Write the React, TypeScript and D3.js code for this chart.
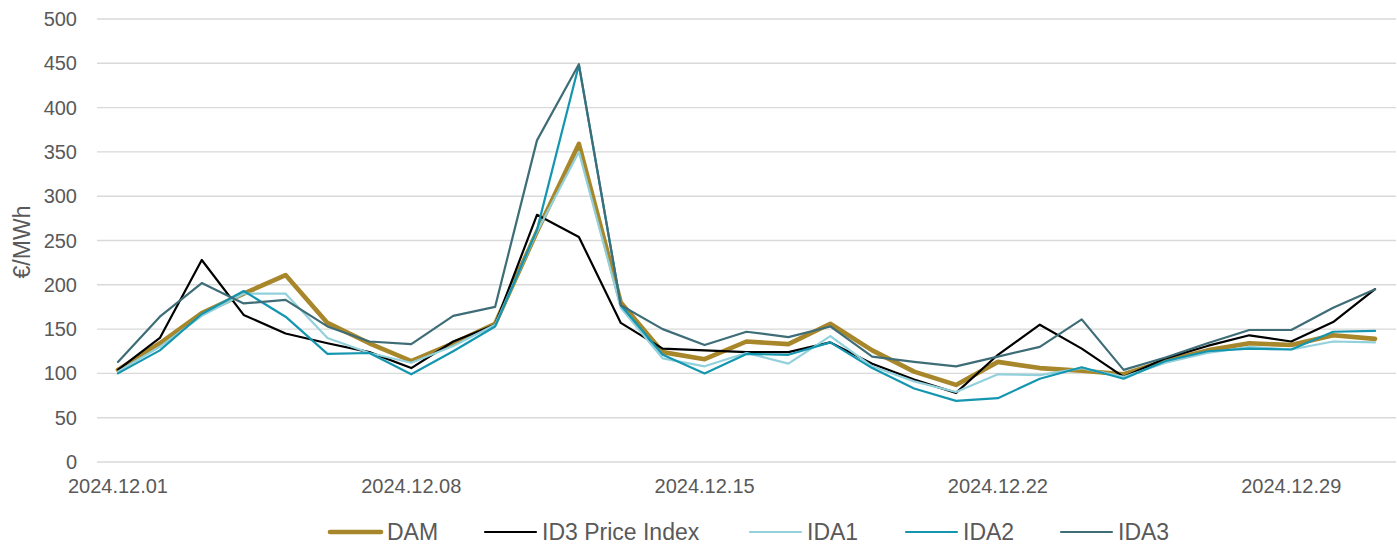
import React, { useEffect, useRef } from 'react';
import * as d3 from 'd3';

// daily prices, 2024.12.01 .. 2024.12.31 (€/MWh)
const days = d3.range(1, 32).map((d) => new Date(2024, 11, d));
const dam = [104, 134, 168, 190, 211, 157, 134, 114, 134, 156, 260, 359, 180, 124, 116, 136, 133, 156, 126, 102, 87, 113, 106, 103, 99, 114, 126, 134, 132, 143, 139];
const id3 = [104, 140, 228, 166, 145, 134, 124, 106, 136, 155, 279, 254, 157, 128, 126, 124, 124, 135, 111, 93, 78, 121, 155, 128, 96, 117, 131, 143, 136, 158, 195];
const ida1 = [102, 130, 165, 190, 190, 140, 123, 112, 131, 155, 260, 350, 174, 117, 108, 123, 111, 142, 108, 91, 79, 99, 98, 106, 96, 112, 123, 130, 127, 136, 135];
const ida2 = [100, 126, 167, 193, 164, 122, 123, 99, 125, 153, 262, 448, 177, 121, 100, 122, 121, 135, 106, 83, 69, 72, 94, 107, 94, 114, 125, 128, 127, 147, 148];
const ida3 = [113, 164, 202, 179, 183, 153, 136, 133, 165, 175, 363, 449, 177, 150, 132, 147, 141, 153, 119, 113, 108, 119, 130, 161, 104, 118, 134, 149, 149, 174, 195];
const yTicks = [0, 50, 100, 150, 200, 250, 300, 350, 400, 450, 500];
const labelEvery = 7;

const series = [
  { name: 'DAM', values: dam, color: '#a8862a', width: 4.6 },
  { name: 'ID3 Price Index', values: id3, color: '#000000', width: 2.2 },
  { name: 'IDA1', values: ida1, color: '#92d0dc', width: 2.2 },
  { name: 'IDA2', values: ida2, color: '#1496b0', width: 2.2 },
  { name: 'IDA3', values: ida3, color: '#3e6d77', width: 2.2 },
];
const legendX = [328, 483, 748, 904, 1059];

export default function App() {
  const ref = useRef(null);

  useEffect(() => {
    document.body.style.margin = '0';
    const width = 1397, height = 544;
    const left = 97, right = 1396, top = 19, bottom = 462;
    const font = '"Liberation Sans", Arial, sans-serif';
    const grey = '#595959';

    const svg = d3.select(ref.current);
    svg.selectAll('*').remove();
    svg.attr('width', width).attr('height', height);

    const fmt = d3.timeFormat('%Y.%m.%d');
    const x = d3.scalePoint().domain(days.map((d) => fmt(d))).range([left, right]).padding(0.5);
    const y = d3.scaleLinear().domain([0, 500]).range([bottom, top]);

    // grid lines
    svg.append('g')
      .selectAll('line')
      .data(yTicks)
      .join('line')
      .attr('x1', left)
      .attr('x2', right)
      .attr('y1', (d) => y(d))
      .attr('y2', (d) => y(d))
      .attr('stroke', '#d9d9d9')
      .attr('stroke-width', 1.4);

    // y axis labels
    svg.append('g')
      .selectAll('text')
      .data(yTicks)
      .join('text')
      .attr('x', 77)
      .attr('y', (d) => y(d))
      .attr('dy', '0.35em')
      .attr('text-anchor', 'end')
      .attr('font-family', font)
      .attr('font-size', 20)
      .attr('fill', grey)
      .text((d) => d);

    svg.append('text')
      .attr('transform', 'translate(30,242) rotate(-90)')
      .attr('text-anchor', 'middle')
      .attr('font-family', font)
      .attr('font-size', 23)
      .attr('fill', grey)
      .text('€/MWh');

    // x axis labels
    svg.append('g')
      .selectAll('text')
      .data(days.filter((d, i) => i % labelEvery === 0))
      .join('text')
      .attr('x', (d) => x(fmt(d)))
      .attr('y', 493)
      .attr('text-anchor', 'middle')
      .attr('font-family', font)
      .attr('font-size', 20)
      .attr('fill', grey)
      .text((d) => fmt(d));

    // lines
    series.forEach((s) => {
      const line = d3.line()
        .x((d, i) => x(fmt(days[i])))
        .y((d) => y(d));
      svg.append('path')
        .datum(s.values)
        .attr('d', line)
        .attr('fill', 'none')
        .attr('stroke', s.color)
        .attr('stroke-width', s.width)
        .attr('stroke-linejoin', 'round')
        .attr('stroke-linecap', 'round');
    });

    // legend
    const lg = svg.append('g').attr('transform', 'translate(0,532)');
    series.forEach((s, i) => {
      const gx = legendX[i];
      lg.append('line')
        .attr('x1', gx + 2)
        .attr('x2', gx + 53)
        .attr('stroke', s.color)
        .attr('stroke-width', s.width)
        .attr('stroke-linecap', 'round');
      lg.append('text')
        .attr('x', gx + 59)
        .attr('dy', '0.36em')
        .attr('font-family', font)
        .attr('font-size', 23)
        .attr('fill', grey)
        .text(s.name);
    });
  }, []);

  return <svg ref={ref} />;
}
